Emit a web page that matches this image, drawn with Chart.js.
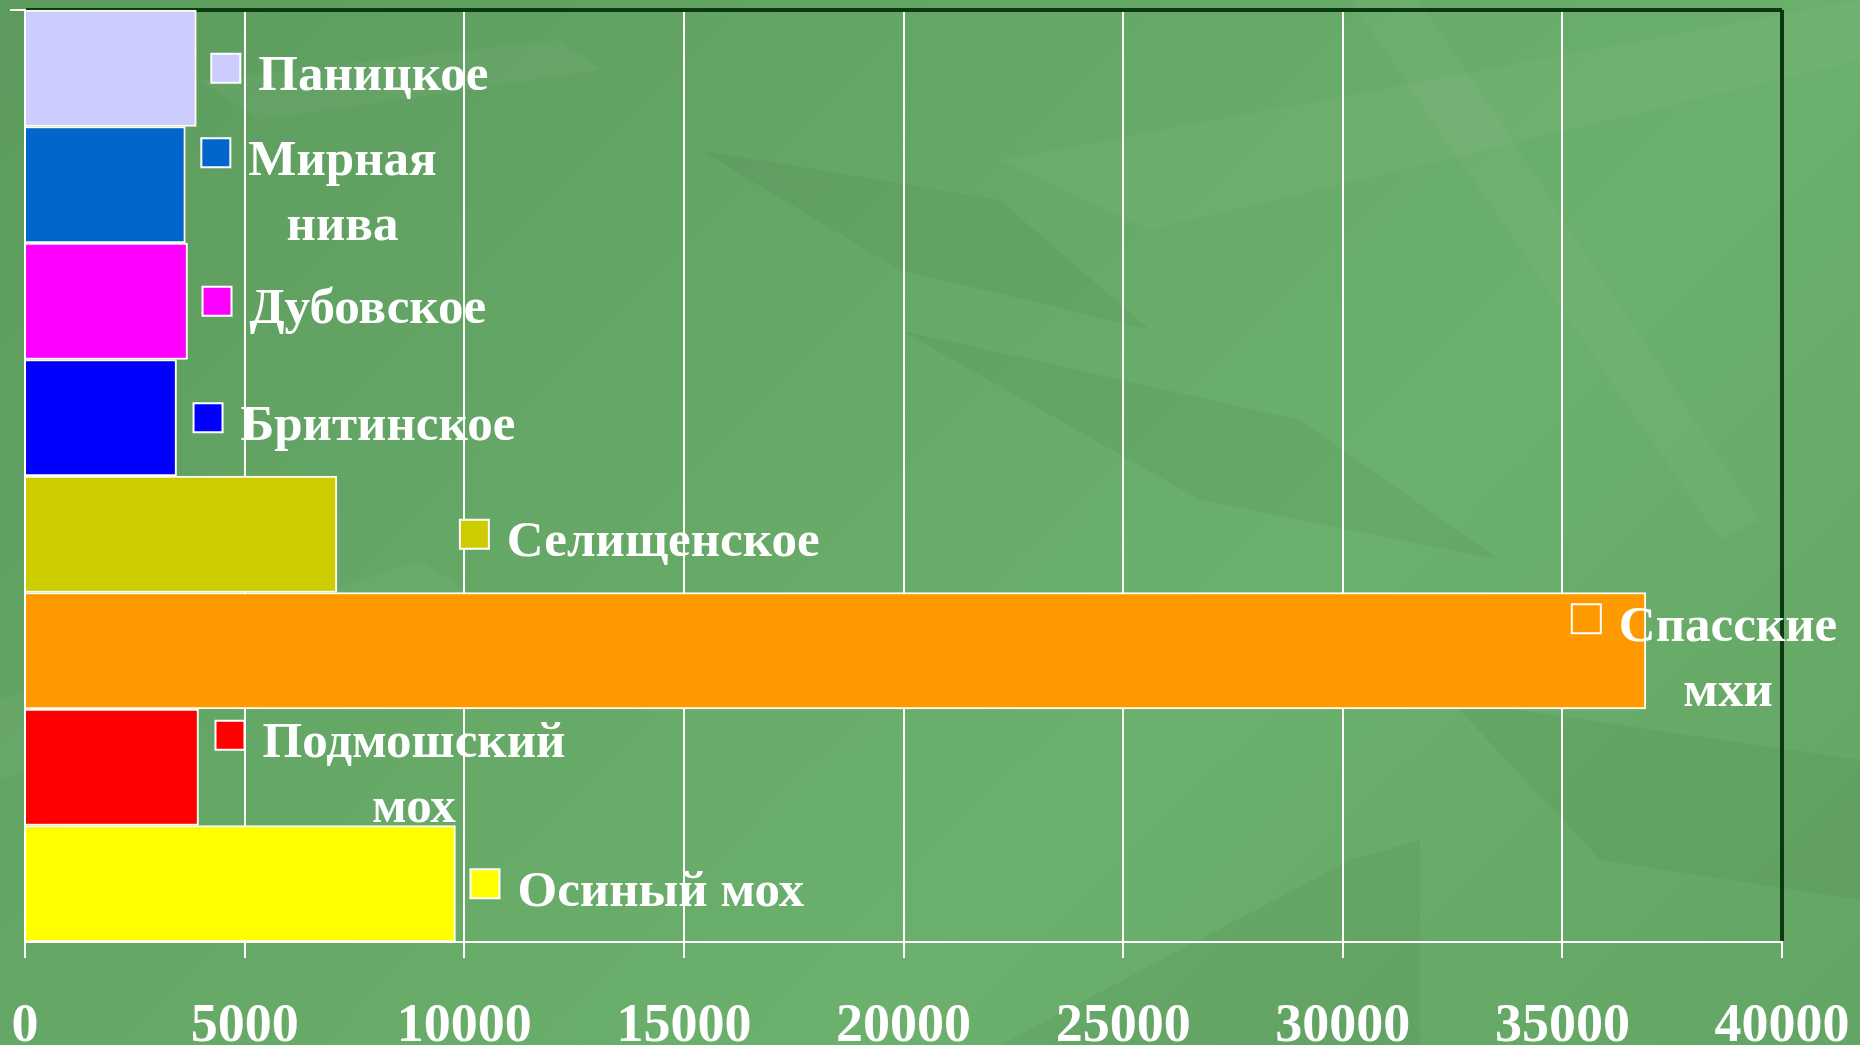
<!DOCTYPE html>
<html>
<head>
<meta charset="utf-8">
<script src="https://cdn.jsdelivr.net/npm/chart.js@4.4.1/dist/chart.umd.min.js"></script>
<style>
  html, body { margin: 0; padding: 0; width: 1860px; height: 1045px; overflow: hidden; }
  body {
    background-color: #64a565;
    background-image:
      url("data:image/svg+xml;utf8,<svg xmlns='http://www.w3.org/2000/svg' width='1860' height='1045'><g fill='%23ffffff' fill-opacity='0.035'><polygon points='1000,160 1860,0 1860,60 1150,230'/><polygon points='1350,0 1420,0 1760,520 1720,540'/><polygon points='0,700 420,560 480,600 0,780'/><polygon points='200,80 560,40 600,70 260,120'/></g><g fill='%23000000' fill-opacity='0.04'><polygon points='900,330 1300,420 1500,560 1200,500'/><polygon points='1000,1045 1350,860 1420,840 1420,1045'/><polygon points='1450,700 1860,760 1860,900 1600,860'/><polygon points='700,150 1000,200 1150,330 900,270'/></g></svg>"),
      linear-gradient(135deg, #5c9b5d 0%, #66a967 40%, #6cb06d 65%, #63a564 100%);
  }
  #wrap { position: absolute; left: 0; top: 0; width: 1860px; height: 1045px; }
</style>
</head>
<body>
<div id="wrap"><canvas id="c" width="1860" height="1045"></canvas></div>
<script>
// ---- data ----
const categories = ['Паницкое', 'Мирная нива', 'Дубовское', 'Бритинское', 'Селищенское', 'Спасские мхи', 'Подмошский мох', 'Осиный мох'];
const labelLines = [['Паницкое'], ['Мирная', 'нива'], ['Дубовское'], ['Бритинское'], ['Селищенское'], ['Спасские', 'мхи'], ['Подмошский', 'мох'], ['Осиный мох']];
const values = [3900, 3650, 3700, 3450, 7100, 36900, 3950, 9800];
const xTicks = [0, 5000, 10000, 15000, 20000, 25000, 30000, 35000, 40000];

// ---- style ----
const barColors = ['#CCCCFF', '#0066CC', '#FF00FF', '#0000FF', '#CCCC00', '#FF9900', '#FF0000', '#FFFF00'];
const labelDx = [15, 16, 15, 17, 123, -74, 17, 15]; // square offset from bar end (px)
const DARK = '#0c3812';
const FONT = '"Liberation Serif", "Times New Roman", serif';

const barLabels = {
  id: 'barLabels',
  afterDatasetsDraw(chart) {
    const ctx = chart.ctx;
    const meta = chart.getDatasetMeta(0);
    ctx.save();
    ctx.font = 'bold 51px ' + FONT;
    ctx.textBaseline = 'alphabetic';
    const lh = 65, sq = 29, gap = 18;
    meta.data.forEach((el, i) => {
      const lines = labelLines[i];
      const n = lines.length;
      const firstBase = el.y + 22 - (n - 1) * 32;
      const sx = el.x + labelDx[i];
      const sy = firstBase - 22 - sq / 2;
      ctx.fillStyle = barColors[i];
      ctx.fillRect(sx, sy, sq, sq);
      ctx.strokeStyle = '#ffffff';
      ctx.lineWidth = 2;
      ctx.strokeRect(sx, sy, sq, sq);
      const tx = sx + sq + gap;
      const w0 = ctx.measureText(lines[0]).width;
      const cx = tx + w0 / 2;
      ctx.fillStyle = '#ffffff';
      ctx.textAlign = 'center';
      lines.forEach((t, k) => ctx.fillText(t, cx, firstBase + k * lh));
    });
    ctx.restore();
  }
};

new Chart(document.getElementById('c'), {
  type: 'bar',
  data: {
    labels: categories,
    datasets: [{
      data: values,
      backgroundColor: barColors,
      borderColor: '#fffdf0',
      borderWidth: 2,
      borderSkipped: 'start',
      barPercentage: 1.0,
      categoryPercentage: 1.0
    }]
  },
  plugins: [barLabels],
  options: {
    indexAxis: 'y',
    responsive: false,
    animation: false,
    devicePixelRatio: 1,
    layout: { padding: { top: 10, right: 78, left: 0, bottom: 0 } },
    plugins: { legend: { display: false }, tooltip: { enabled: false } },
    scales: {
      x: {
        min: 0, max: 40000,
        afterBuildTicks: s => { s.ticks = xTicks.map(v => ({ value: v })); },
        ticks: {
          color: '#ffffff',
          font: { family: FONT, size: 54, weight: 'bold', lineHeight: 2.45 },
          padding: 3, maxRotation: 0, autoSkip: false,
          callback: v => String(v)
        },
        grid: {
          color: c => (c.index === xTicks.length - 1 ? DARK : '#ffffff'),
          lineWidth: c => (c.index === xTicks.length - 1 ? 4 : 2),
          tickColor: '#ffffff', tickLength: 16, tickWidth: 2
        },
        border: { color: '#ffffff', width: 2 },
        afterFit: s => { s.height = 103; }
      },
      y: {
        offset: true,
        ticks: { display: false },
        grid: {
          offset: true,
          color: c => (c.index === 0 ? DARK : 'rgba(0,0,0,0)'),
          lineWidth: 4,
          tickColor: c => ((c.index === 0 || c.index === categories.length) ? '#ffffff' : 'rgba(0,0,0,0)'),
          tickLength: 15, tickWidth: 2
        },
        border: { color: '#ffffff', width: 2 },
        afterFit: s => { s.width = 25; }
      }
    }
  }
});
</script>
</body>
</html>
